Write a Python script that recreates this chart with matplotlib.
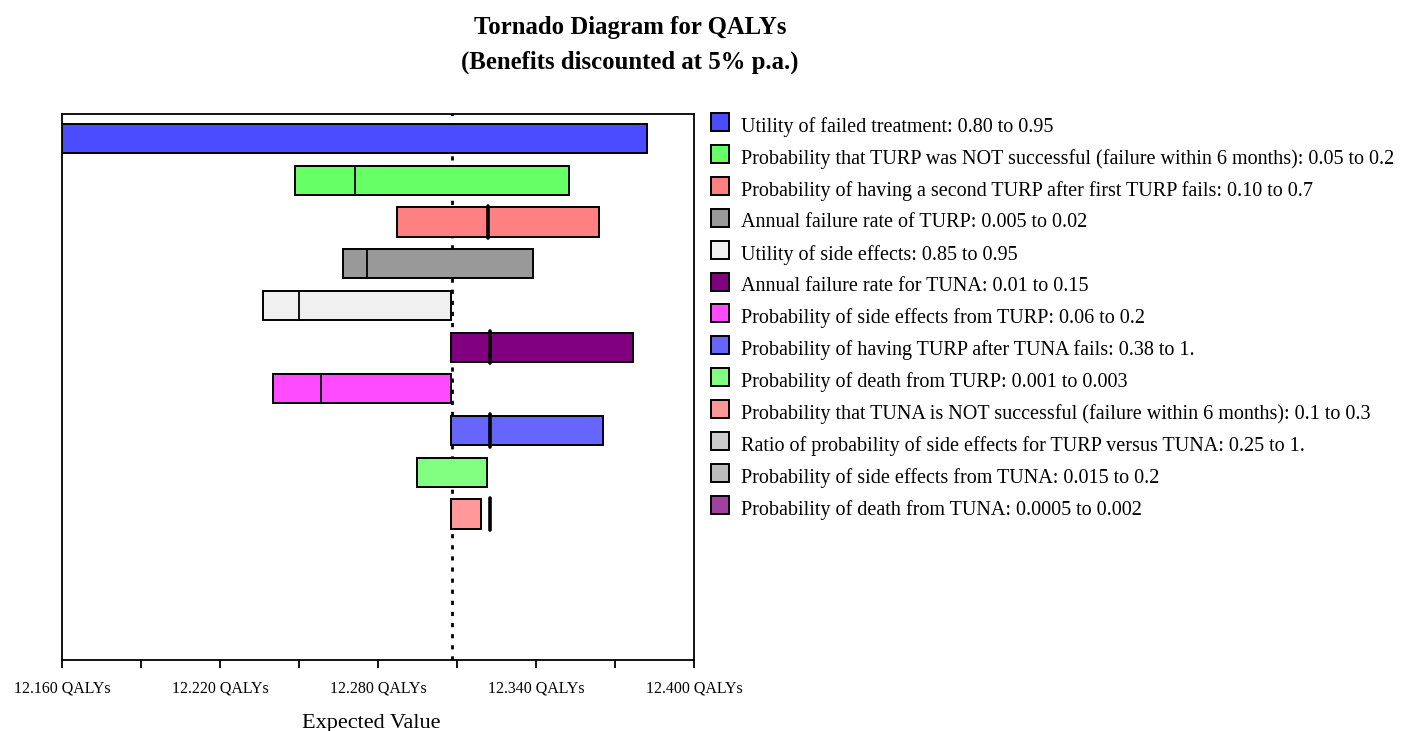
import matplotlib
matplotlib.use('Agg')
import matplotlib.pyplot as plt
from matplotlib.patches import Rectangle
from matplotlib.ticker import FixedLocator

plt.rcParams['font.family'] = ['Liberation Serif', 'DejaVu Serif']

# 参数名称（图例）
labels = [
    'Utility of failed treatment: 0.80 to 0.95',
    'Probability that TURP was NOT successful (failure within 6 months): 0.05 to 0.2',
    'Probability of having a second TURP after first TURP fails: 0.10 to 0.7',
    'Annual failure rate of TURP: 0.005 to 0.02',
    'Utility of side effects: 0.85 to 0.95',
    'Annual failure rate for TUNA: 0.01 to 0.15',
    'Probability of side effects from TURP: 0.06 to 0.2',
    'Probability of having TURP after TUNA fails: 0.38 to 1.',
    'Probability of death from TURP: 0.001 to 0.003',
    'Probability that TUNA is NOT successful (failure within 6 months): 0.1 to 0.3',
    'Ratio of probability of side effects for TURP versus TUNA: 0.25 to 1.',
    'Probability of side effects from TUNA: 0.015 to 0.2',
    'Probability of death from TUNA: 0.0005 to 0.002',
]
colors = ['#4b4bff', '#66ff66', '#ff8080', '#999999', '#f0f0f0', '#800080',
          '#ff4bff', '#6666ff', '#80ff80', '#ff9999', '#cccccc', '#bbbbbb',
          '#a040a0']

# 每个参数的期望值范围 (QALYs)
low = [12.160, 12.2485, 12.2872, 12.2667, 12.2363, 12.3077, 12.2401, 12.3077, 12.2948, 12.3077]
high = [12.382, 12.3526, 12.3639, 12.3389, 12.3077, 12.3769, 12.3077, 12.3655, 12.3214, 12.3191]
# 阈值标记（None 表示无）
marks = [None, 12.2713, 12.3218, 12.2758, 12.2500, 12.3226, 12.2584, 12.3226, None, 12.3226]
base_ev = 12.308

x_ticks = [12.16, 12.22, 12.28, 12.34, 12.40]
x_minor = [12.19, 12.25, 12.31, 12.37]
tick_labels = ['12.160 QALYs', '12.220 QALYs', '12.280 QALYs', '12.340 QALYs', '12.400 QALYs']

# 样式
mark_lw = [0, 1.3, 2.6, 1.3, 1.3, 2.6, 1.3, 2.6, 0, 2.6]
bar_h = 0.70

fig = plt.figure(figsize=(14.06, 7.31), dpi=100)
ax = fig.add_axes([62 / 1406, 71 / 731, 632 / 1406, 546 / 731])

for i in range(len(low)):
    ax.barh(i, high[i] - low[i], left=low[i], height=bar_h, color=colors[i],
            edgecolor='black', linewidth=1.4, zorder=3)
    if marks[i] is not None:
        ext = 0.04 if mark_lw[i] > 2 else 0.0
        ax.plot([marks[i], marks[i]], [i - bar_h / 2 - ext, i + bar_h / 2 + ext],
                color='black', lw=mark_lw[i], zorder=4, solid_capstyle='round')

ax.axvline(base_ev, color='black', lw=2.0, dashes=(1.5, 2.5), zorder=2)

ax.set_xlim(12.16, 12.40)
ax.set_ylim(12.5, -0.59)
ax.set_yticks([])
ax.xaxis.set_major_locator(FixedLocator(x_ticks))
ax.xaxis.set_minor_locator(FixedLocator(x_minor))
ax.set_xticklabels(tick_labels, fontsize=11.5)
ax.tick_params(axis='x', which='both', direction='out', length=6, width=1.3, pad=9)
for s in ax.spines.values():
    s.set_linewidth(1.3)

fig.text(371 / 1406, 1 - 728 / 731, 'Expected Value', ha='center', va='baseline', fontsize=16)

fig.text(630 / 1406, 1 - 34 / 731, 'Tornado Diagram for QALYs', ha='center', va='baseline',
         fontsize=17.8, fontweight='bold')
fig.text(630 / 1406, 1 - 69 / 731, '(Benefits discounted at 5% p.a.)', ha='center', va='baseline',
         fontsize=17.8, fontweight='bold')

# 图例（手绘）
lax = fig.add_axes([0, 0, 1, 1])
lax.set_xlim(0, 1406)
lax.set_ylim(731, 0)
lax.axis('off')
for k, (lab, c) in enumerate(zip(labels, colors)):
    y = 122 + k * 31.9
    lax.add_patch(Rectangle((711, y - 9), 18, 18, facecolor=c, edgecolor='black', lw=1.4))
    lax.text(741, y + 5, lab, ha='left', va='center', fontsize=14.5)

fig.savefig('out.png', dpi=100)
